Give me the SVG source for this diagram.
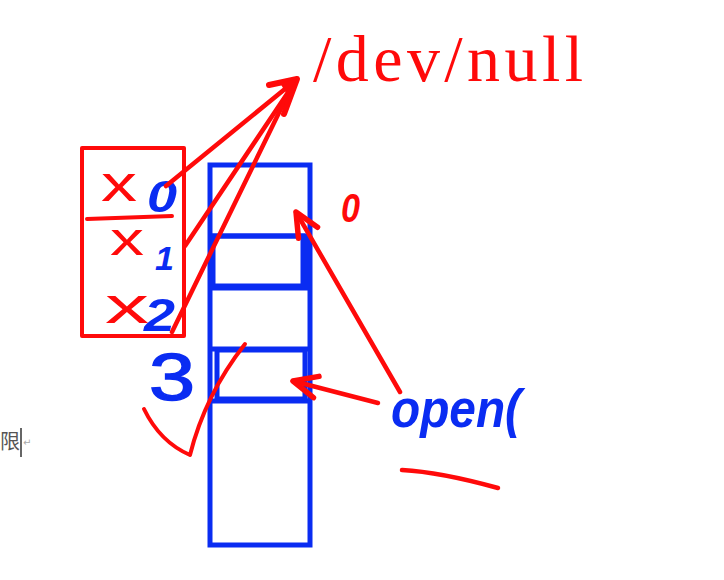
<svg xmlns="http://www.w3.org/2000/svg" width="724" height="580" viewBox="0 0 724 580">
  <style>
    .red { stroke: #ff0a0a; fill: none; stroke-linecap: round; stroke-linejoin: round; }
    .blue { stroke: #0a2cf2; fill: none; }
    .hred { fill: #ff0a0a; font-family: "Liberation Sans", sans-serif; }
    .hblue { fill: #0a2cf2; font-family: "Liberation Sans", sans-serif; font-style: italic; font-weight: bold; }
  </style>
  <defs>
    <marker id="ah" markerUnits="userSpaceOnUse" markerWidth="60" markerHeight="60" viewBox="-40 -30 60 60" refX="0" refY="0" orient="auto" overflow="visible">
      <path d="M-24,-11 L0,0 L-24,11" fill="none" stroke="#ff0a0a" stroke-width="5.5" stroke-linecap="round" stroke-linejoin="round"/>
    </marker>
  </defs>
  <rect width="724" height="580" fill="#ffffff"/>

  <!-- editor remnant -->
  <g id="editor-text">
    <text x="0" y="449" font-family="Noto Sans CJK SC, sans-serif" font-size="20" fill="#555555">限</text>
    <line x1="21" y1="428" x2="21" y2="457" stroke="#333333" stroke-width="1.5"/>
    <text x="23" y="446" font-family="DejaVu Sans, sans-serif" font-size="10" fill="#aaaaaa">↵</text>
  </g>

  <!-- fd table (red box) -->
  <g id="fd-table">
    <rect x="82" y="148" width="102" height="188" class="red" stroke-width="4" stroke-linejoin="miter"/>
    <path d="M87,219 L172,216" class="red" stroke-width="4"/>
    <text x="101" y="201" class="hred" font-size="50" textLength="36" lengthAdjust="spacingAndGlyphs">x</text>
    <text x="110" y="255" class="hred" font-size="46" textLength="34" lengthAdjust="spacingAndGlyphs">x</text>
    <text x="105" y="323" class="hred" font-size="52" textLength="44" lengthAdjust="spacingAndGlyphs">x</text>
    <text x="147" y="212" class="hblue" font-size="44" textLength="30" lengthAdjust="spacingAndGlyphs">0</text>
    <text x="155" y="270" class="hblue" font-size="34">1</text>
    <text x="144" y="331" class="hblue" font-size="46" textLength="31" lengthAdjust="spacingAndGlyphs">2</text>
  </g>

  <!-- fd 3 -->
  <g id="fd3">
    <text x="149" y="400" class="hblue" font-size="66" style="font-style:normal;font-weight:normal" stroke="#0a2cf2" stroke-width="1.5" textLength="46" lengthAdjust="spacingAndGlyphs">3</text>
  </g>

  <!-- blue column -->
  <g id="fd-column">
    <rect x="210" y="165" width="100" height="380" class="blue" stroke-width="5"/>
    <line x1="210" y1="236" x2="310" y2="236" class="blue" stroke-width="5"/>
    <rect x="213" y="236" width="90" height="50" class="blue" stroke-width="5"/>
    <rect x="303" y="236" width="7" height="52" fill="#0a2cf2"/>
    <line x1="210" y1="288" x2="310" y2="288" class="blue" stroke-width="5"/>
    <line x1="210" y1="349" x2="310" y2="349" class="blue" stroke-width="5"/>
    <rect x="217" y="350" width="88" height="49" class="blue" stroke-width="5"/>
    <line x1="210" y1="401" x2="310" y2="401" class="blue" stroke-width="5"/>
  </g>

  <!-- /dev/null -->
  <g id="dev-null">
    <text x="313" y="81" font-family="Liberation Serif, serif" font-size="66" fill="#ff0a0a" textLength="270" lengthAdjust="spacing">/dev/null</text>
  </g>

  <!-- labels -->
  <g id="label-0">
    <text x="341" y="222" class="hred" font-size="40" font-style="italic" font-weight="bold" textLength="19" lengthAdjust="spacingAndGlyphs">0</text>
  </g>
  <g id="open">
    <text x="391" y="427" class="hblue" font-size="54" textLength="130" lengthAdjust="spacingAndGlyphs">open(</text>
    <path d="M402,470 Q440,472 498,488" class="red" stroke-width="4.5"/>
  </g>
  <g id="check">
    <path d="M144,409 Q160,442 190,455 Q205,395 245,344" class="red" stroke-width="4"/>
  </g>

  <!-- connectors -->
  <g id="connectors">
    <path d="M166,186 L296,80" class="red" stroke-width="4.5"/>
    <path d="M185,246 L295,82" class="red" stroke-width="4.5"/>
    <path d="M172,332 L293,84" class="red" stroke-width="4.5"/>
    <path d="M269,85 L297,79 L284,114" class="red" stroke-width="6"/>
    <polygon points="297,79 280,83 288,96" fill="#ff0a0a"/>
    <path d="M400,392 L296,212" class="red" stroke-width="4.5" marker-end="url(#ah)"/>
    <path d="M378,403 L293,381" class="red" stroke-width="4.5" marker-end="url(#ah)"/>
  </g>
</svg>
